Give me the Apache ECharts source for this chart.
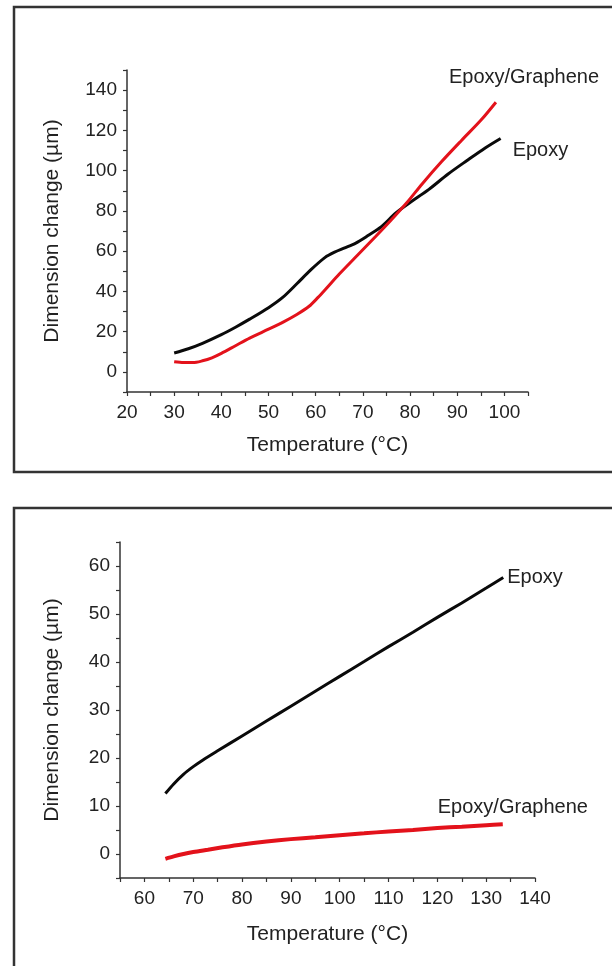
<!DOCTYPE html>
<html lang="en">
<head>
<meta charset="UTF-8">
<title>Dimension change vs temperature</title>
<script src="https://cdn.jsdelivr.net/npm/echarts@6/dist/echarts.min.js"></script>
<style>
  html, body { margin: 0; padding: 0; background: #fff; }
  #chart { width: 612px; height: 966px; }
</style>
</head>
<body>
<div id="chart"></div>
<script>
// panel (a): 30-100 C
var topEpoxyT = [30, 33, 36, 40, 43, 46, 50, 53, 56, 59, 62, 64, 66, 68.5, 71, 74, 77, 80, 84, 88, 92, 96, 99.2];
var topEpoxyV = [9.4, 11.5, 14.2, 18.5, 22.2, 26.2, 31.9, 37, 43.8, 50.8, 56.9, 59.5, 61.5, 64, 67.6, 72.3, 79, 84.2, 90.7, 98.2, 104.9, 111.4, 116];
var topGrapheneT = [30, 32, 34, 36, 38, 40, 43, 46, 50, 53, 56, 58.6, 60.5, 62, 65, 69, 72.7, 76, 79.3, 82.6, 86.7, 90.9, 95, 98.2];
var topGrapheneV = [5, 4.6, 4.6, 5.5, 7, 9.2, 13, 16.8, 21.2, 24.6, 28.5, 32.6, 37, 40.8, 48.6, 58.3, 67.3, 75.5, 84, 93.5, 104.5, 115, 125, 134];

// panel (b): 64-134 C
var botEpoxyT = [64.3, 66, 68, 70, 72, 75, 80, 85, 90, 95, 100, 105, 110, 115, 120, 125, 130, 133.5];
var botEpoxyV = [12.6, 14.6, 16.6, 18.2, 19.6, 21.5, 24.6, 27.7, 30.8, 33.9, 37, 40.1, 43.2, 46.2, 49.3, 52.3, 55.4, 57.6];
var botGrapheneT = [64.3, 66, 68, 70, 73, 76, 80, 85, 90, 95, 100, 105, 110, 115, 120, 125, 130, 133.4];
var botGrapheneV = [-1, -0.5, 0, 0.4, 0.9, 1.4, 2, 2.6, 3.1, 3.5, 3.9, 4.3, 4.7, 5, 5.4, 5.7, 6, 6.2];

function zip(a, b) {
    return a.map(function (x, i) { return [x, b[i]]; });
}

var chart = echarts.init(document.getElementById('chart'));
var FONT = 'Liberation Sans';
var TXT = '#222';

function xAx(idx, min, max, gap) {
    return {
        type: 'value', gridIndex: idx, min: min, max: max, interval: 5,
        name: 'Temperature (°C)', nameLocation: 'middle', nameGap: gap,
        nameTextStyle: { fontFamily: FONT, fontSize: 21, color: TXT },
        axisLine: { onZero: false, lineStyle: { color: '#333', width: 1.5 } },
        axisTick: { length: 4, lineStyle: { color: '#333', width: 1.2 } },
        splitLine: { show: false },
        axisLabel: {
            margin: 11, fontFamily: FONT, fontSize: 19, color: TXT, hideOverlap: false,
            formatter: function (v) { return v % 10 === 0 ? String(v) : ''; }
        }
    };
}
function yAx(idx, min, max, step, gap) {
    return {
        type: 'value', gridIndex: idx, min: min, max: max, interval: step / 2,
        name: 'Dimension change (µm)', nameLocation: 'middle', nameGap: gap,
        nameTextStyle: { fontFamily: FONT, fontSize: 21, color: TXT },
        axisLine: { show: true, onZero: false, lineStyle: { color: '#333', width: 1.5 } },
        axisTick: { show: true, length: 4, lineStyle: { color: '#333', width: 1.2 } },
        splitLine: { show: false },
        axisLabel: {
            margin: 10, fontFamily: FONT, fontSize: 19, color: TXT, hideOverlap: false,
            formatter: function (v) { return v % step === 0 ? String(v) : ''; }
        }
    };
}
function line(name, xi, data, color, width, off) {
    return {
        name: name, type: 'line', xAxisIndex: xi, yAxisIndex: xi,
        data: data, smooth: 0.3, symbol: 'none', silent: true,
        lineStyle: { color: color, width: width },
        endLabel: {
            show: true, formatter: '{a}', offset: off,
            fontFamily: FONT, fontSize: 20, color: TXT
        }
    };
}

chart.setOption({
    backgroundColor: '#fff',
    animation: false,
    graphic: [
        { type: 'rect', shape: { x: 14, y: 7, width: 700, height: 465 },
          style: { fill: 'none', stroke: '#333', lineWidth: 2.5 } },
        { type: 'rect', shape: { x: 14, y: 508, width: 700, height: 500 },
          style: { fill: 'none', stroke: '#333', lineWidth: 2.5 } }
    ],
    grid: [
        { left: 127, top: 70, width: 401, height: 322 },
        { left: 120, top: 542, width: 415, height: 336 }
    ],
    xAxis: [xAx(0, 20, 105, 43), xAx(1, 55, 140, 46)],
    yAxis: [yAx(0, -10, 150, 20, 64), yAx(1, -5, 65, 10, 57)],
    series: [
        line('Epoxy', 0, zip(topEpoxyT, topEpoxyV), '#0a0a0a', 3, [4, 12]),
        line('Epoxy/Graphene', 0, zip(topGrapheneT, topGrapheneV), '#e3121b', 3, [-55, -25]),
        line('Epoxy', 1, zip(botEpoxyT, botEpoxyV), '#0a0a0a', 3, [-4, 0]),
        line('Epoxy/Graphene', 1, zip(botGrapheneT, botGrapheneV), '#e3121b', 4, [-73, -17])
    ]
});
</script>
</body>
</html>
